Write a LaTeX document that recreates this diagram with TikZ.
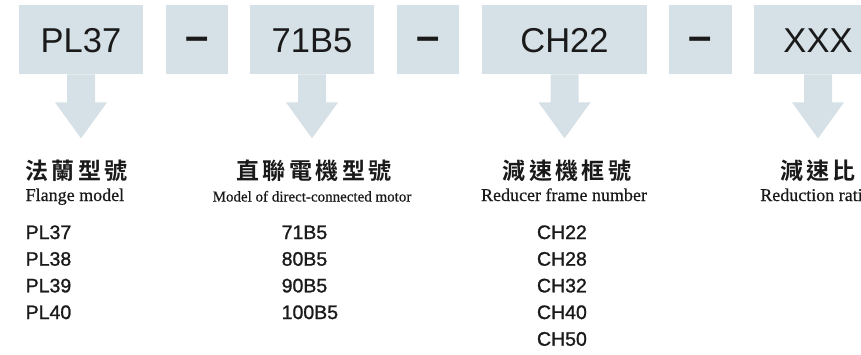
\documentclass[tikz,border=0pt]{standalone}
\usepackage{fontspec}
\setmainfont{Liberation Serif}
\setsansfont{Liberation Sans}
\newfontfamily\cjkbold[LetterSpace=15]{Noto Sans CJK TC Bold}
\newfontfamily\serifhead[FakeBold=0.6]{Liberation Serif}
\newfontfamily\arialfont{Liberation Sans}
\newfontfamily\arialmed[FakeBold=1.2]{Liberation Sans}
\newfontfamily\arialbold{Liberation Sans Bold}
\definecolor{boxblue}{RGB}{214,225,231}
\definecolor{ink}{RGB}{26,26,26}
\begin{document}
\begin{tikzpicture}[x=1pt,y=-1pt,
  codebox/.style={fill=boxblue,draw=none,minimum height=69pt,inner sep=0pt,anchor=north},
  codetext/.style={font=\arialfont\fontsize{34.5}{40}\selectfont,text=ink,inner sep=0pt,anchor=base},
  dashtext/.style={font=\arialbold\fontsize{42}{46}\selectfont,text=ink,inner sep=0pt,anchor=base},
  cjkhead/.style={font=\cjkbold\fontsize{23}{26}\selectfont,text=ink,inner sep=0pt},
  enhead/.style={font=\serifhead\fontsize{18}{20}\selectfont,text=ink,inner sep=0pt,anchor=base},
  listtext/.style={font=\arialmed\fontsize{19.5}{22}\selectfont,text=ink,inner sep=0pt,anchor=base west},
  downarrow/.style={fill=boxblue,draw=none}]
\useasboundingbox (0,0) rectangle (861,354);
\clip (0,0) rectangle (861,354);
% boxes
\node[codebox,minimum width=124pt] (b1) at (81,5) {};
\node[codebox,minimum width=62pt] (d1) at (197,5) {};
\node[codebox,minimum width=124pt] (b2) at (312,5) {};
\node[codebox,minimum width=62pt] (d2) at (428,5) {};
\node[codebox,minimum width=165pt] (b3) at (564.5,5) {};
\node[codebox,minimum width=63pt] (d3) at (700.5,5) {};
\node[codebox,minimum width=128pt] (b4) at (818,5) {};
% box texts
\node[codetext] (t1) at (81,52) {PL37};
\node[codetext] (t2) at (312,52) {71B5};
\node[codetext] (t3) at (564.5,52) {CH22};
\node[codetext] (t4) at (818,52) {XXX};
\node[dashtext] (s1) at (197,50.3) {–};
\node[dashtext] (s2) at (428,50.3) {–};
\node[dashtext] (s3) at (700.5,50.3) {–};
% arrows
\foreach \b in {b1,b2,b3,b4}{
  \fill[downarrow] (\b.south) ++(-14,0) -- ++(28,0) -- ++(0,28) -- ++(12,0)
    -- ++(-26,36) -- ++(-26,-36) -- ++(12,0) -- cycle;
}
% headings
\node[cjkhead,anchor=west] (h1) at (25,171) {法蘭型號};
\node[enhead,anchor=base west] (e1) at (25.5,201) {Flange model};
\node[cjkhead] (h2) at (314,171) {直聯電機型號};
\node[enhead,font=\serifhead\fontsize{15}{17}\selectfont] (e2) at (312,201.5) {Model of direct-connected motor};
\node[cjkhead] (h3) at (567,171) {減速機框號};
\node[enhead] (e3) at (564,201) {Reducer frame number};
\node[cjkhead] (h4) at (818,171) {減速比};
\node[enhead] (e4) at (816,201) {Reduction ratio};
% lists
\foreach \t [count=\i] in {PL37,PL38,PL39,PL40}{
  \node[listtext] (pl\i) at (25.5,{239+(\i-1)*26.67}) {\t};
}
\foreach \t [count=\i] in {71B5,80B5,90B5,100B5}{
  \node[listtext] (mo\i) at (281.5,{239+(\i-1)*26.67}) {\t};
}
\foreach \t [count=\i] in {CH22,CH28,CH32,CH40,CH50}{
  \node[listtext] (ch\i) at (536.8,{239+(\i-1)*26.67}) {\t};
}
\end{tikzpicture}
\end{document}
